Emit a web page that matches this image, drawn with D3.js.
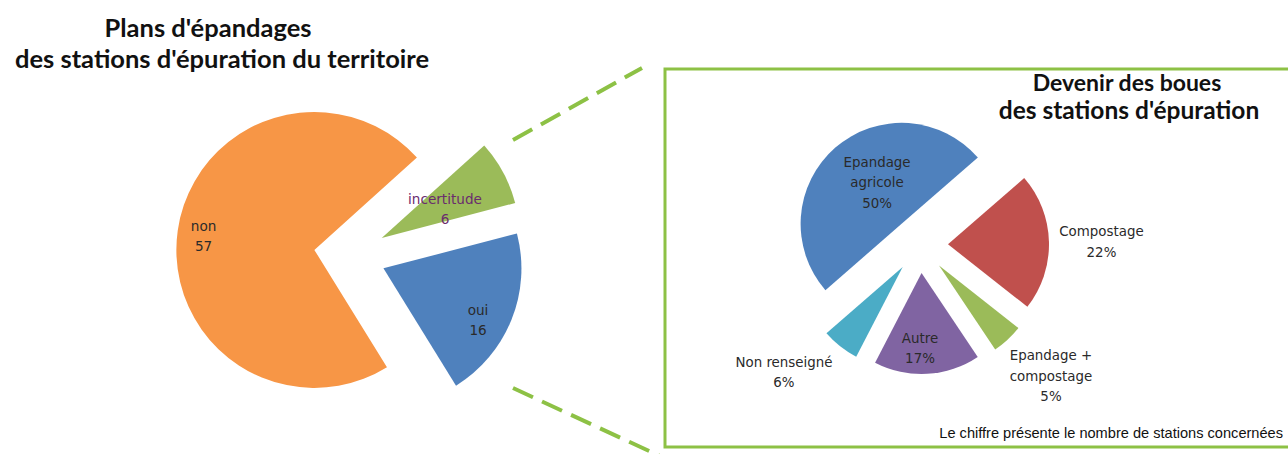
<!DOCTYPE html>
<html lang="fr">
<head>
<meta charset="utf-8">
<script src="https://cdn.jsdelivr.net/npm/d3@7"></script>
<style>
  html, body { margin: 0; padding: 0; background: #fff; }
  svg { display: block; }
</style>
</head>
<body>
<svg id="chart" width="1288" height="454"></svg>
<script>
// Plans d'épandage : nombre de stations
const planCategories = ["incertitude", "oui", "non"];
const planValues = [6, 16, 57];
const planColors = ["#9BBB59", "#4F81BD", "#F79646"];

// Devenir des boues : part des stations (%)
const bouesCategories = ["Compostage", "Epandage +\ncompostage", "Autre", "Non renseigné", "Epandage\nagricole"];
const bouesValues = [22, 5, 17, 6, 50];
const bouesColors = ["#C0504D", "#9BBB59", "#8064A2", "#4BACC6", "#4F81BD"];

const titles = {
  plans: ["Plans d'épandages", "des stations d'épuration du territoire"],
  boues: ["Devenir des boues", "des stations d'épuration"],
  note: "Le chiffre présente le nombre de stations concernées"
};

const titleFont = "Lato, 'Open Sans', sans-serif";
const labelFont = "'DejaVu Sans', Verdana, sans-serif";
const noteFont = "'Liberation Sans', Arial, sans-serif";

const svg = d3.select("#chart");
const deg = Math.PI / 180;

// Exploded pie: every slice pushed outward along its mid angle.
// labelPos[i] = [distance as a fraction of the radius, angular shift in degrees]
function explodedPie(g, opts) {
  const pie = d3.pie().sort(null).value(d => d.value)
    .startAngle(opts.start * deg).endAngle(opts.start * deg + 2 * Math.PI);
  const arcs = pie(opts.data);
  const arc = d3.arc().innerRadius(0).outerRadius(opts.radius);
  const offset = a => {
    const m = (a.startAngle + a.endAngle) / 2;
    return [Math.sin(m) * opts.explode, -Math.cos(m) * opts.explode];
  };
  const slice = g.selectAll("g.slice").data(arcs).join("g")
    .attr("class", "slice")
    .attr("transform", a => { const o = offset(a); return `translate(${o[0]},${o[1]})`; });
  slice.append("path").attr("d", arc).attr("fill", a => a.data.color);

  slice.each(function (a, i) {
    const [f, shift] = opts.labelPos[i];
    const m = (a.startAngle + a.endAngle) / 2 + shift * deg;
    const r = opts.radius * f;
    const x = Math.sin(m) * r, y = -Math.cos(m) * r;
    const lines = opts.label(a.data);
    const t = d3.select(this).append("text")
      .attr("text-anchor", "middle")
      .style("font-family", labelFont)
      .style("font-size", opts.fontSize + "px")
      .attr("fill", a.data.textColor || "#2a2a2a");
    lines.forEach((ln, k) => {
      t.append("tspan")
        .attr("x", x)
        .attr("y", y + (k - (lines.length - 1) / 2) * opts.lineHeight)
        .attr("dy", "0.35em")
        .text(ln);
    });
  });
}

// Left pie
const gLeft = svg.append("g").attr("transform", "translate(350,255)");
explodedPie(gLeft, {
  data: planCategories.map((c, i) => ({
    name: c, value: planValues[i], color: planColors[i],
    textColor: c === "incertitude" ? "#6a2c6e" : "#2a2a2a"
  })),
  start: 48, radius: 138, explode: 36,
  labelPos: [[0.503, 4.1], [0.781, 6.8], [0.809, -1.2]],
  fontSize: 13.6, lineHeight: 20,
  label: d => [d.name, String(d.value)]
});

// Left title
svg.append("g").selectAll("text").data(titles.plans).join("text")
  .attr("x", (d, i) => i === 0 ? 208 : 222)
  .attr("y", (d, i) => i === 0 ? 37 : 68)
  .attr("text-anchor", "middle")
  .style("font-family", titleFont)
  .style("font-size", "25.5px").style("font-weight", 700)
  .attr("fill", "#111")
  .text(d => d);

// Dashed connectors towards the detail box
const green = "#8DC145";
const connectors = [
  [[513, 140], [642, 68]],
  [[513, 388], [662, 457]]
];
svg.append("g").selectAll("line").data(connectors).join("line")
  .attr("x1", d => d[0][0]).attr("y1", d => d[0][1])
  .attr("x2", d => d[1][0]).attr("y2", d => d[1][1])
  .attr("stroke", green).attr("stroke-width", 4)
  .attr("stroke-dasharray", "22 10");

// Detail box
svg.append("rect")
  .attr("x", 665).attr("y", 69).attr("width", 640).attr("height", 378)
  .attr("fill", "none").attr("stroke", green).attr("stroke-width", 3);

// Right title
svg.append("g").selectAll("text").data(titles.boues).join("text")
  .attr("x", (d, i) => i === 0 ? 1127 : 1129)
  .attr("y", (d, i) => i === 0 ? 91 : 119)
  .attr("text-anchor", "middle")
  .style("font-family", titleFont)
  .style("font-size", (d, i) => (i === 0 ? 23 : 24.5) + "px")
  .style("font-weight", 700)
  .attr("fill", "#111")
  .text(d => d);

// Right pie
const gRight = svg.append("g").attr("transform", "translate(920,245)");
explodedPie(gRight, {
  data: bouesCategories.map((c, i) => ({ name: c, value: bouesValues[i], color: bouesColors[i] })),
  start: 49, radius: 101, explode: 28,
  labelPos: [[1.52, 0.5], [1.557, -2.6], [0.744, 4.4], [1.572, 10.2], [0.477, 10.3]],
  fontSize: 13.4, lineHeight: 20.5,
  label: d => d.name.split("\n").concat(d.value + "%")
});

// Note
svg.append("text")
  .attr("x", 1283).attr("y", 438)
  .attr("text-anchor", "end")
  .style("font-family", noteFont)
  .style("font-size", "14.6px")
  .attr("fill", "#111")
  .text(titles.note);
</script>
</body>
</html>
